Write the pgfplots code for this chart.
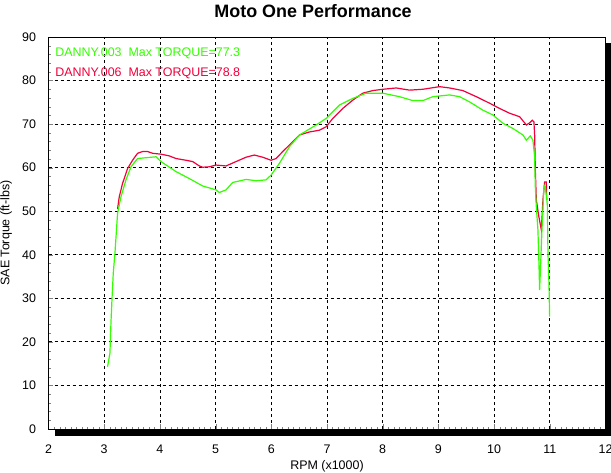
\documentclass[border=0pt]{standalone}
\usepackage{pgfplots}
\pgfplotsset{compat=1.18}
\usepackage{fontspec}
\setmainfont{Liberation Sans}
\definecolor{cgreen}{RGB}{51,255,0}
\definecolor{cred}{RGB}{240,0,60}
\begin{document}
\begin{tikzpicture}
\useasboundingbox (-48.5bp,-44bp) rectangle (562.5bp,429bp);
\begin{axis}[name=ax, at={(0,0)}, anchor=south west, scale only axis,
 width=557bp, height=392bp,
 xmin=2, xmax=12, ymin=0, ymax=90,
 xtick={2,...,12}, ytick={0,10,...,90},
 minor x tick num=9, minor y tick num=4,
 tick pos=left, tick align=inside,
 major tick length=5bp, minor tick length=2.5bp,
 grid=major, major grid style={black, line width=0.8bp, dash pattern=on 3bp off 3bp},
 axis line style={line width=1bp},
 font=\fontsize{12.5}{14}\selectfont,
 /pgf/number format/assume math mode=true,
 ticklabel style={font=\fontsize{12.5}{14}\selectfont},
 yticklabel style={xshift=-9bp},
 xticklabel style={yshift=-12bp},
 xlabel={RPM (x1000)}, ylabel={SAE Torque (ft-lbs)},
 xlabel style={at={(axis description cs:0.5,-0.094)}, anchor=center},
 ylabel style={at={(axis description cs:-0.076,0.5)}, anchor=center},
 every axis title shift=0pt,
 title={Moto One Performance},
 title style={at={(axis description cs:0.475,1.050)}, anchor=base, yshift=0pt, inner sep=0pt, font=\fontsize{18}{20}\selectfont\bfseries},
]
\addplot[cred, line width=1.2bp] coordinates {
(3.240,50.5) (3.270,53.3) (3.330,56.4) (3.420,59.8) (3.509,61.7) (3.599,63.3)
(3.689,63.7) (3.779,63.7) (3.869,63.3) (4.020,63.1) (4.169,62.7) (4.289,62.1)
(4.469,61.7) (4.588,61.4) (4.708,60.4) (4.767,60.1) (4.888,60.2) (5.008,60.6)
(5.188,60.4) (5.367,61.4) (5.547,62.4) (5.696,62.9) (5.845,62.4) (5.996,61.7)
(6.086,62.1) (6.205,63.7) (6.325,65.2) (6.505,67.5) (6.685,68.2) (6.864,68.6)
(6.985,69.4) (7.103,71.3) (7.283,73.6) (7.463,75.5) (7.642,77.1) (7.822,77.7)
(8.002,78.0) (8.243,78.3) (8.482,77.8) (8.721,78.0) (9.021,78.6) (9.200,78.3)
(9.439,77.7) (9.680,76.3) (9.919,74.8) (10.098,73.6) (10.278,72.5) (10.458,71.7)
(10.579,69.8) (10.638,70.3) (10.686,70.9) (10.715,70.5) (10.728,67.5)
(10.740,59.4) (10.758,52.6) (10.800,49.0) (10.848,45.7) (10.877,52.6)
(10.907,56.7) (10.938,56.7) (10.944,52.6)
};
\addplot[cgreen, line width=1.2bp] coordinates {
(3.060,14.3) (3.103,17.4) (3.121,24.3) (3.139,29.6) (3.163,35.8) (3.193,40.4)
(3.240,49.5) (3.301,53.3) (3.391,57.2) (3.481,60.2) (3.599,62.1) (3.930,62.5)
(4.020,61.4) (4.289,59.1) (4.528,57.5) (4.767,55.8) (5.008,54.9) (5.067,54.3)
(5.188,54.9) (5.306,56.6) (5.547,57.3) (5.727,57.0) (5.907,57.2) (5.996,58.3)
(6.146,61.0) (6.325,64.8) (6.505,67.5) (6.805,69.8) (6.985,71.3) (7.224,74.4)
(7.463,75.9) (7.703,77.1) (8.002,77.1) (8.302,76.3) (8.541,75.4) (8.721,75.4)
(8.900,76.3) (9.200,76.7) (9.380,76.3) (9.560,75.1) (9.799,73.2) (9.978,72.1)
(10.158,70.2) (10.338,69.0) (10.518,67.5) (10.579,66.3) (10.650,67.3)
(10.697,66.3) (10.728,62.5) (10.740,55.6) (10.758,51.0) (10.787,45.7)
(10.805,38.0) (10.817,31.9) (10.836,38.0) (10.859,45.7) (10.895,55.6)
(10.913,56.0) (10.938,53.7) (10.956,51.4) (10.967,40.3) (10.985,33.4)
(10.997,25.8)
};
\node[anchor=west, text=cgreen, inner sep=0] at (axis cs:2.12,86.2) {DANNY.003\ \ Max TORQUE=77.3};
\node[anchor=west, text=cred, inner sep=0] at (axis cs:2.12,81.6) {DANNY.006\ \ Max TORQUE=78.8};
\end{axis}
\fill[black] ([xshift=6.5bp,yshift=-7bp]ax.south west) rectangle ([xshift=6bp,yshift=-0.5bp]ax.south east);
\fill[black] ([xshift=0.5bp,yshift=-6bp]ax.north east) rectangle ([xshift=6bp,yshift=-7bp]ax.south east);
\end{tikzpicture}
\end{document}
